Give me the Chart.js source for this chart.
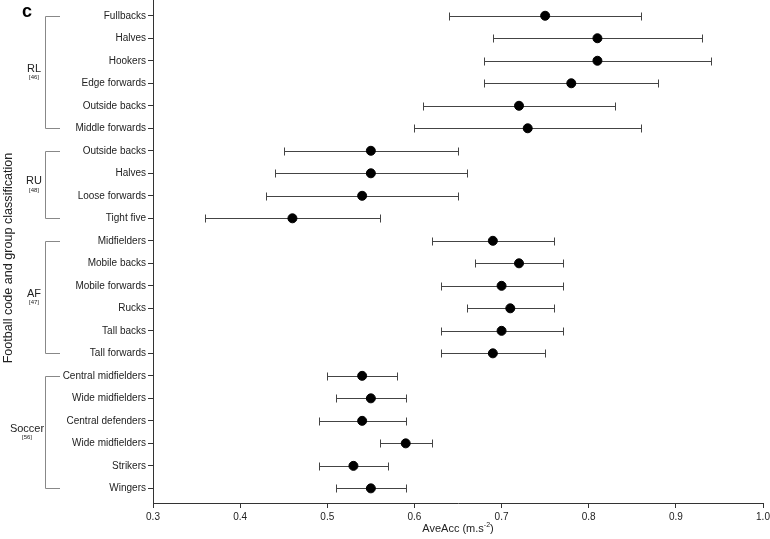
<!DOCTYPE html>
<html>
<head>
<meta charset="utf-8">
<script src="https://cdn.jsdelivr.net/npm/chart.js@4.4.0/dist/chart.umd.min.js"></script>
<style>
  body { margin: 0; background: #fff; }
  #wrap { width: 770px; height: 539px; position: relative; }
</style>
</head>
<body>
<div id="wrap"><canvas id="chartAveAcc"></canvas></div>
<script>
// positions, top to bottom
const posiciones = [
    "Fullbacks", "Halves", "Hookers", "Edge forwards", "Outside backs", "Middle forwards",
    "Outside backs", "Halves", "Loose forwards", "Tight five",
    "Midfielders", "Mobile backs", "Mobile forwards", "Rucks", "Tall backs", "Tall forwards",
    "Central midfielders", "Wide midfielders", "Central defenders", "Wide midfielders", "Strikers", "Wingers",
];
const medias = [
    0.75, 0.81, 0.81, 0.78, 0.72, 0.73,
    0.55, 0.55, 0.54, 0.46,
    0.69, 0.72, 0.70, 0.71, 0.70, 0.69,
    0.54, 0.55, 0.54, 0.59, 0.53, 0.55,
];
const limiteInferior = [
    0.64, 0.69, 0.68, 0.68, 0.61, 0.60,
    0.45, 0.44, 0.43, 0.36,
    0.62, 0.67, 0.63, 0.66, 0.63, 0.63,
    0.50, 0.51, 0.49, 0.56, 0.49, 0.51,
];
const limiteSuperior = [
    0.86, 0.93, 0.94, 0.88, 0.83, 0.86,
    0.65, 0.66, 0.65, 0.56,
    0.76, 0.77, 0.77, 0.76, 0.77, 0.75,
    0.58, 0.59, 0.59, 0.62, 0.57, 0.59,
];
const grupos = ["RL", "RU", "AF", "Soccer"];
const referencias = ["[46]", "[48]", "[47]", "[56]"];
const grupoInicio = [0, 6, 10, 16];
const grupoFin = [5, 9, 15, 21];
const xTicks = [0.3, 0.4, 0.5, 0.6, 0.7, 0.8, 0.9, 1.0];

const fuente = "'Liberation Sans', Arial, sans-serif";
const ctx = document.getElementById("chartAveAcc");

const puntos = medias.map((m, i) => ({ x: m, y: i }));

// error bars with caps
const barrasError = {
    id: "barrasError",
    beforeDatasetsDraw(chart) {
        const { ctx, scales } = chart;
        ctx.save();
        ctx.strokeStyle = "#444";
        ctx.lineWidth = 1;
        medias.forEach((m, i) => {
            const y = Math.round(scales.y.getPixelForValue(i)) + 0.5;
            const x1 = Math.round(scales.x.getPixelForValue(limiteInferior[i])) + 0.5;
            const x2 = Math.round(scales.x.getPixelForValue(limiteSuperior[i])) + 0.5;
            ctx.beginPath();
            ctx.moveTo(x1, y);
            ctx.lineTo(x2, y);
            ctx.moveTo(x1, y - 4);
            ctx.lineTo(x1, y + 4);
            ctx.moveTo(x2, y - 4);
            ctx.lineTo(x2, y + 4);
            ctx.stroke();
        });
        ctx.restore();
    },
};

// group brackets, titles, panel letter
const anotaciones = {
    id: "anotaciones",
    afterDraw(chart) {
        const { ctx, scales, chartArea } = chart;
        ctx.save();
        // brackets
        ctx.strokeStyle = "#888";
        ctx.lineWidth = 1;
        grupos.forEach((g, k) => {
            const yA = Math.round(scales.y.getPixelForValue(grupoInicio[k])) + 0.5;
            const yB = Math.round(scales.y.getPixelForValue(grupoFin[k])) + 0.5;
            ctx.beginPath();
            ctx.moveTo(60, yA);
            ctx.lineTo(45.5, yA);
            ctx.lineTo(45.5, yB);
            ctx.lineTo(60, yB);
            ctx.stroke();
            const yM = (yA + yB) / 2;
            const xc = g === "Soccer" ? 27 : 34;
            ctx.fillStyle = "#222";
            ctx.textAlign = "center";
            ctx.textBaseline = "middle";
            ctx.font = "11px " + fuente;
            ctx.fillText(g, xc, yM - 4);
            ctx.font = "6px " + fuente;
            ctx.fillText(referencias[k], xc, yM + 5);
        });

        // panel letter
        ctx.fillStyle = "#000";
        ctx.font = "bold 18px " + fuente;
        ctx.textAlign = "center";
        ctx.textBaseline = "middle";
        ctx.fillText("c", 27, 12);

        // y title
        ctx.save();
        ctx.translate(9, 258);
        ctx.rotate(-Math.PI / 2);
        ctx.font = "12.6px " + fuente;
        ctx.fillStyle = "#222";
        ctx.fillText("Football code and group classification", 0, 0);
        ctx.restore();

        // x title with superscript
        const base = "AveAcc (m.s";
        const sup = "-2";
        const fin = ")";
        ctx.font = "11px " + fuente;
        const w1 = ctx.measureText(base).width;
        const w3 = ctx.measureText(fin).width;
        ctx.font = "7px " + fuente;
        const w2 = ctx.measureText(sup).width;
        const xc = (chartArea.left + chartArea.right) / 2;
        let x = xc - (w1 + w2 + w3) / 2;
        const y = 529;
        ctx.textAlign = "left";
        ctx.fillStyle = "#222";
        ctx.font = "11px " + fuente;
        ctx.fillText(base, x, y);
        x += w1;
        ctx.font = "7px " + fuente;
        ctx.fillText(sup, x, y - 4);
        x += w2;
        ctx.font = "11px " + fuente;
        ctx.fillText(fin, x, y);
        ctx.restore();
    },
};

const configAveAcc = {
    type: "scatter",
    data: {
        datasets: [
            {
                label: "AveAcc",
                data: puntos,
                backgroundColor: "#000",
                borderColor: "#000",
                pointRadius: 4.5,
                pointHoverRadius: 4.5,
            },
        ],
    },
    options: {
        responsive: true,
        maintainAspectRatio: false,
        animation: false,
        layout: { autoPadding: false, padding: { top: 0, right: 7, bottom: 0, left: 0 } },
        plugins: {
            legend: { display: false },
            tooltip: { enabled: false },
        },
        scales: {
            x: {
                type: "linear",
                min: 0.3,
                max: 1.0,
                afterBuildTicks: (scale) => {
                    scale.ticks = xTicks.map((v) => ({ value: v }));
                },
                afterFit: (scale) => {
                    scale.height = 36;
                    scale.paddingLeft = 0;
                    scale.paddingRight = 0;
                },
                ticks: {
                    callback: (v) => Number(v).toFixed(1),
                    font: { family: fuente, size: 10 },
                    color: "#222",
                    padding: 3,
                    maxRotation: 0,
                },
                grid: {
                    display: true,
                    drawOnChartArea: false,
                    drawTicks: true,
                    tickLength: 5,
                    color: "#333",
                },
                border: { display: true, color: "#333", width: 1 },
            },
            y: {
                type: "linear",
                reverse: true,
                min: -0.7,
                max: 21.65,
                afterBuildTicks: (scale) => {
                    scale.ticks = posiciones.map((p, i) => ({ value: i }));
                },
                afterFit: (scale) => {
                    scale.width = 153;
                    scale.paddingTop = 0;
                    scale.paddingBottom = 0;
                },
                ticks: {
                    callback: (v) => posiciones[v],
                    font: { family: fuente, size: 10 },
                    color: "#222",
                    padding: 2,
                    autoSkip: false,
                },
                grid: {
                    display: true,
                    drawOnChartArea: false,
                    drawTicks: true,
                    tickLength: 5,
                    color: "#333",
                },
                border: { display: true, color: "#333", width: 1 },
            },
        },
    },
    plugins: [barrasError, anotaciones],
};

const ChartAveAcc = new Chart(ctx, configAveAcc);
</script>
</body>
</html>
